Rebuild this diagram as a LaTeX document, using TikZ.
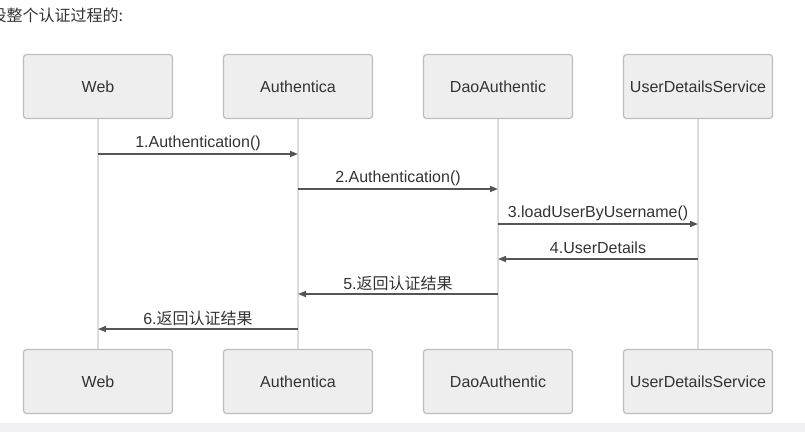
\documentclass[tikz,border=0pt]{standalone}
\usepackage{fontspec}
\setmainfont{Liberation Sans}
\newfontfamily\cjk{Noto Sans CJK SC}
\usetikzlibrary{arrows.meta}
\definecolor{boxfill}{HTML}{EEEEEE}
\definecolor{boxborder}{HTML}{BDBDBD}
\definecolor{txt}{HTML}{333333}
\definecolor{lifec}{HTML}{DDDDDD}
\definecolor{msgc}{HTML}{555555}
\definecolor{stripc}{HTML}{F0F0F4}
\begin{document}
\begin{tikzpicture}[x=1pt,y=-1pt,
  actor/.style={draw=boxborder, fill=boxfill, line width=1.2pt, rounded corners=3pt,
    minimum width=149pt, minimum height=64pt, inner sep=0pt,
    font=\fontsize{16}{19}\selectfont, text=txt},
  life/.style={draw=lifec, line width=1.5pt},
  msg/.style={draw=msgc, line width=1.6pt, -{Triangle[length=8pt,width=6pt]}},
  lbl/.style={font=\fontsize{16}{19}\selectfont, text=txt, inner sep=0pt}]
\useasboundingbox (0,0) rectangle (805,432);
\fill[stripc] (0,423) rectangle (805,432);
\node[anchor=west, inner sep=0pt, text=txt, font=\cjk\fontsize{16}{19}\selectfont] (title) at (-9.5,15) {设整个认证过程的:};
% top actors
\node[actor] (wt) at (98,86.5) {Web};
\node[actor] (at) at (298,86.5) {Authentica};
\node[actor] (dt) at (498,86.5) {DaoAuthentic};
\node[actor] (ut) at (698,86.5) {UserDetailsService};
% bottom actors
\node[actor] (wb) at (98,381.5) {Web};
\node[actor] (ab) at (298,381.5) {Authentica};
\node[actor] (db) at (498,381.5) {DaoAuthentic};
\node[actor] (ub) at (698,381.5) {UserDetailsService};
% lifelines
\draw[life] (wt.south) -- (wb.north);
\draw[life] (at.south) -- (ab.north);
\draw[life] (dt.south) -- (db.north);
\draw[life] (ut.south) -- (ub.north);
% message points
\coordinate (w1) at (98,154);  \coordinate (a1) at (298,154);
\coordinate (a2) at (298,189); \coordinate (d2) at (498,189);
\coordinate (d3) at (498,224); \coordinate (u3) at (698,224);
\coordinate (u4) at (698,259); \coordinate (d4) at (498,259);
\coordinate (d5) at (498,294); \coordinate (a5) at (298,294);
\coordinate (a6) at (298,329); \coordinate (w6) at (98,329);
\draw[msg] (w1) -- node[lbl, yshift=11pt] (l1) {1.Authentication()} (a1);
\draw[msg] (a2) -- node[lbl, yshift=11pt] (l2) {2.Authentication()} (d2);
\draw[msg] (d3) -- node[lbl, yshift=11pt] (l3) {3.loadUserByUsername()} (u3);
\draw[msg] (u4) -- node[lbl, yshift=11pt] (l4) {4.UserDetails} (d4);
\draw[msg] (d5) -- node[lbl, yshift=11pt] (l5) {5.{\cjk 返回认证结果}} (a5);
\draw[msg] (a6) -- node[lbl, yshift=11pt] (l6) {6.{\cjk 返回认证结果}} (w6);
\end{tikzpicture}
\end{document}
